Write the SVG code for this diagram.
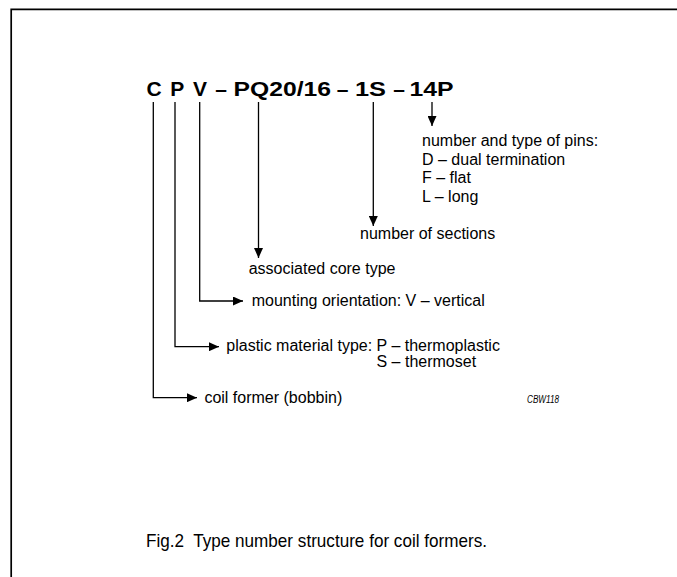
<svg xmlns="http://www.w3.org/2000/svg" width="677" height="577" viewBox="0 0 677 577">
<defs>
<style>
.t{font-family:"Liberation Sans",Arial,sans-serif;font-size:16px;fill:#000}
.h{font-family:"Liberation Sans",Arial,sans-serif;font-size:21px;font-weight:bold;fill:#000}
.c{font-family:"Liberation Sans",Arial,sans-serif;font-size:19px;fill:#000}
.s{font-family:"Liberation Sans",Arial,sans-serif;font-size:11px;font-style:italic;fill:#000}
.ln{fill:none;stroke:#000;stroke-width:1.3}
.fr{fill:none;stroke:#000;stroke-width:1.7}
</style>
<marker id="ah" viewBox="0 0 10 10" refX="10" refY="5" markerWidth="10" markerHeight="9" markerUnits="userSpaceOnUse" orient="auto" preserveAspectRatio="none">
<path d="M0,0 L10,5 L0,10 Z" fill="#000"/>
</marker>
</defs>
<rect width="677" height="577" fill="#fff"/>
<path class="fr" d="M11.2,577 V9.3 H677"/>
<g id="title">
<text class="h" x="154" y="96" text-anchor="middle">C</text>
<text class="h" x="177.3" y="96" text-anchor="middle">P</text>
<text class="h" x="200" y="96" text-anchor="middle">V</text>
<text class="h" x="221" y="96" text-anchor="middle">–</text>
<text class="h" x="233.5" y="96" textLength="97.5" lengthAdjust="spacingAndGlyphs">PQ20/16</text>
<text class="h" x="342.5" y="96" text-anchor="middle">–</text>
<text class="h" x="355" y="96" textLength="31" lengthAdjust="spacingAndGlyphs">1S</text>
<text class="h" x="399" y="96" text-anchor="middle">–</text>
<text class="h" x="409.5" y="96" textLength="44" lengthAdjust="spacingAndGlyphs">14P</text>
</g>
<g id="connectors">
<path class="ln" d="M153.3,102 V397.7 H197" marker-end="url(#ah)"/>
<path class="ln" d="M175,102 V346.7 H219" marker-end="url(#ah)"/>
<path class="ln" d="M199.7,102 V301 H243" marker-end="url(#ah)"/>
<path class="ln" d="M258.5,102 V258" marker-end="url(#ah)"/>
<path class="ln" d="M373.3,102 V226" marker-end="url(#ah)"/>
<path class="ln" d="M432,102 V126" marker-end="url(#ah)"/>
</g>
<g id="pins">
<text class="t" x="422" y="146">number and type of pins:</text>
<text class="t" x="422" y="164.5">D – dual termination</text>
<text class="t" x="422" y="183">F – flat</text>
<text class="t" x="422" y="201.5">L – long</text>
</g>
<g id="sections">
<text class="t" x="360" y="239">number of sections</text>
</g>
<g id="core">
<text class="t" x="248.7" y="273.5">associated core type</text>
</g>
<g id="mounting">
<text class="t" x="251.7" y="306">mounting orientation: V – vertical</text>
</g>
<g id="material">
<text class="t" x="226.3" y="351">plastic material type: P – thermoplastic</text>
<text class="t" x="376.5" y="367">S – thermoset</text>
</g>
<g id="former">
<text class="t" x="204.4" y="403">coil former (bobbin)</text>
</g>
<text class="s" x="527" y="403" textLength="32" lengthAdjust="spacingAndGlyphs">CBW118</text>
<text class="c" x="146" y="546.7" textLength="341" lengthAdjust="spacingAndGlyphs">Fig.2&#160; Type number structure for coil formers.</text>
</svg>
